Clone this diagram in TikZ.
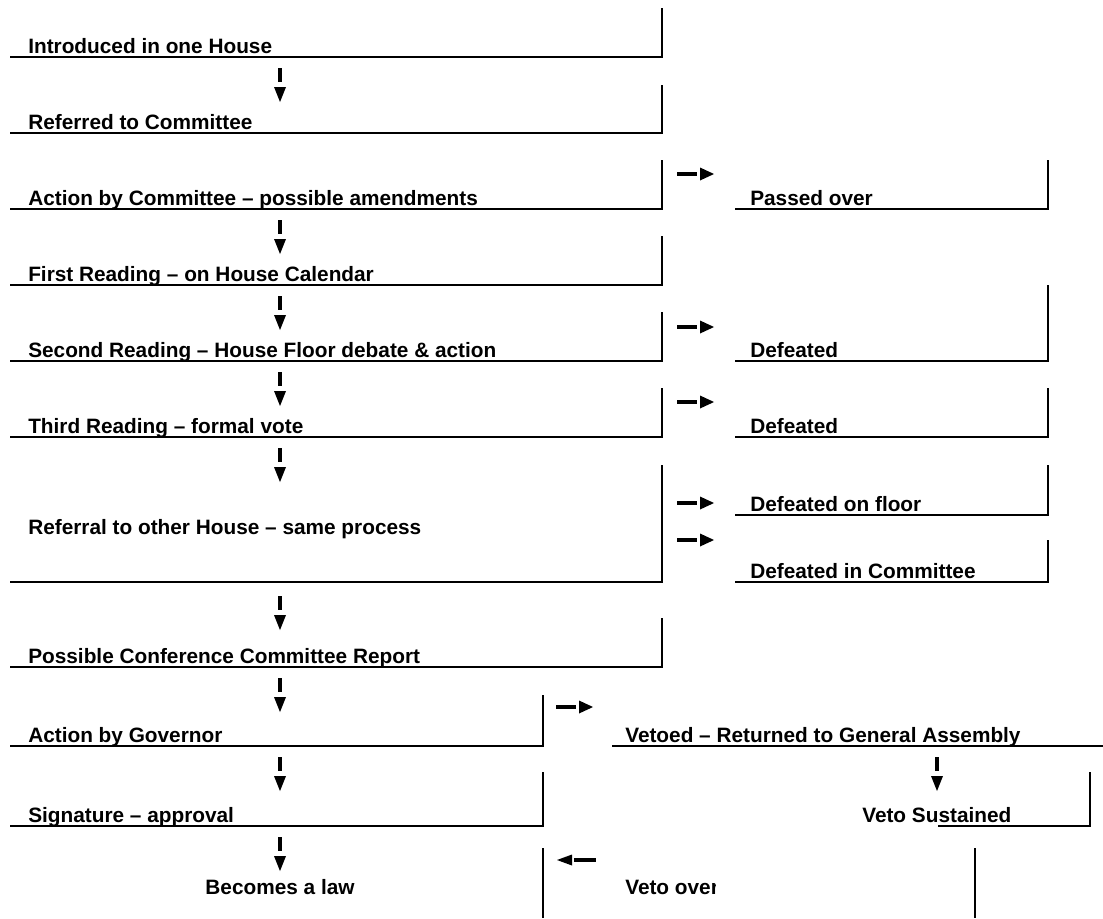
\documentclass[tikz,border=0pt]{standalone}
\usepackage{fontspec}
\setmainfont{Liberation Sans}
\tikzset{
  rule/.style={line width=1.9pt, line join=miter},
  lbl/.style={anchor=base west, inner sep=0pt, font=\bfseries\fontsize{15.6}{18}\selectfont},
  lblc/.style={anchor=base, inner sep=0pt, font=\bfseries\fontsize{15.6}{18}\selectfont},
  downarr/.pic={
    \fill (-1.6,0) rectangle (1.6,14);
    \fill (-6,19) -- (6,19) -- (0,34) -- cycle;
  },
  rightarr/.pic={
    \fill (0,-1.6) rectangle (20,1.6);
    \fill (23,-6.5) -- (23,6.5) -- (37,0) -- cycle;
  },
  leftarr/.pic={
    \fill (0,0) -- (15,-5.5) -- (15,5.5) -- cycle;
    \fill (17,-1.6) rectangle (39,1.6);
  }
}
\begin{document}
\begin{tikzpicture}[x=0.75pt,y=-0.75pt]
\useasboundingbox (0,0) rectangle (1103,918);
% row 1
\node[lbl] (t1) at (28,53) {Introduced in one House};
\draw[rule] (10,57) -- (662,57) -- (662,8);
\coordinate (d1) at (280,68); \pic at (d1) {downarr};
% row 2
\node[lbl] (t2) at (28,129) {Referred to Committee};
\draw[rule] (10,133) -- (662,133) -- (662,85);
% row 3
\node[lbl] (t3) at (28,205) {Action by Committee – possible amendments};
\draw[rule] (10,209) -- (662,209) -- (662,160);
\coordinate (h1) at (677,174); \pic at (h1) {rightarr};
\node[lbl] (r1) at (750,205) {Passed over};
\draw[rule] (735,209) -- (1048,209) -- (1048,160);
\coordinate (d2) at (280,220); \pic at (d2) {downarr};
% row 4
\node[lbl] (t4) at (28,281) {First Reading – on House Calendar};
\draw[rule] (10,285) -- (662,285) -- (662,236);
\coordinate (d3) at (280,296); \pic at (d3) {downarr};
% row 5
\node[lbl] (t5) at (28,357) {Second Reading – House Floor debate \& action};
\draw[rule] (10,361) -- (662,361) -- (662,312);
\coordinate (h2) at (677,327); \pic at (h2) {rightarr};
\node[lbl] (r2) at (750,357) {Defeated};
\draw[rule] (735,361) -- (1048,361) -- (1048,285);
\coordinate (d4) at (280,372); \pic at (d4) {downarr};
% row 6
\node[lbl] (t6) at (28,433) {Third Reading – formal vote};
\draw[rule] (10,437) -- (662,437) -- (662,388);
\coordinate (h3) at (677,402); \pic at (h3) {rightarr};
\node[lbl] (r3) at (750,433) {Defeated};
\draw[rule] (735,437) -- (1048,437) -- (1048,388);
\coordinate (d5) at (280,448); \pic at (d5) {downarr};
% row 7
\node[lbl] (t7) at (28,534) {Referral to other House – same process};
\draw[rule] (10,582) -- (662,582) -- (662,465);
\coordinate (h4) at (677,503); \pic at (h4) {rightarr};
\node[lbl] (r4) at (750,511) {Defeated on floor};
\draw[rule] (735,515) -- (1048,515) -- (1048,465);
\coordinate (h5) at (677,540); \pic at (h5) {rightarr};
\node[lbl] (r5) at (750,578) {Defeated in Committee};
\draw[rule] (735,582) -- (1048,582) -- (1048,540);
\coordinate (d6) at (280,596); \pic at (d6) {downarr};
% row 8
\node[lbl] (t8) at (28,663) {Possible Conference Committee Report};
\draw[rule] (10,667) -- (662,667) -- (662,618);
\coordinate (d7) at (280,678); \pic at (d7) {downarr};
% row 9
\node[lbl] (t9) at (28,742) {Action by Governor};
\draw[rule] (10,746) -- (543,746) -- (543,695);
\coordinate (h6) at (556,707); \pic at (h6) {rightarr};
\node[lbl] (r6) at (625,742) {Vetoed – Returned to General Assembly};
\draw[rule] (612,746) -- (1103,746);
\coordinate (d8) at (937,757); \pic at (d8) {downarr};
\coordinate (d9) at (280,757); \pic at (d9) {downarr};
% row 10
\node[lbl] (t10) at (28,822) {Signature – approval};
\draw[rule] (10,826) -- (543,826) -- (543,772);
\node[lbl] (r7) at (862,822) {Veto Sustained};
\draw[rule] (938,826) -- (1090,826) -- (1090,772);
\coordinate (d10) at (280,837); \pic at (d10) {downarr};
% row 11
\node[lblc] (t11) at (280,894) {Becomes a law};
\draw[rule] (543,848) -- (543,918);
\coordinate (h7) at (557,860); \pic at (h7) {leftarr};
\begin{scope}
  \clip (600,840) rectangle (715.5,918);
  \node[lbl] (r8) at (625,894) {Veto overridden};
\end{scope}
\draw[rule] (975,848) -- (975,918);
\end{tikzpicture}
\end{document}
